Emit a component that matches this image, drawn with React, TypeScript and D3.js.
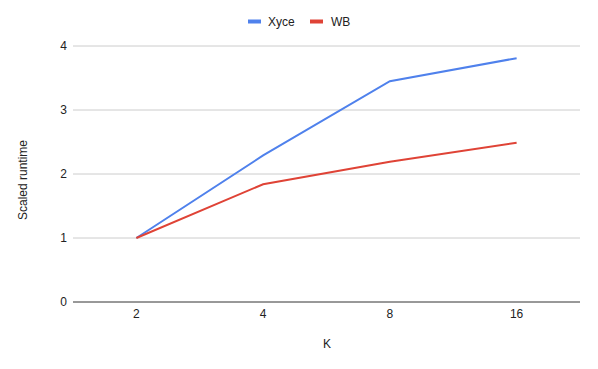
import React from 'react';
import * as d3 from 'd3';

const categories = ['2', '4', '8', '16'];
const xyce = [1, 2.29, 3.45, 3.81];
const wb = [1, 1.84, 2.19, 2.49];
const yTicks = [0, 1, 2, 3, 4];

const series = [
  { name: 'Xyce', values: xyce, color: '#4f81ec' },
  { name: 'WB', values: wb, color: '#df4336' },
];

const W = 598;
const H = 369;
const font = 'Liberation Sans, Arial, sans-serif';

export default function App() {
  const x = d3.scaleBand().domain(categories).range([73, 580]);
  const y = d3.scaleLinear().domain([0, 4]).range([302, 46]);

  const line = d3
    .line<number>()
    .x((_, i) => x(categories[i])! + x.bandwidth() / 2)
    .y(d => y(d));

  return (
    <svg width={W} height={H} style={{ position: 'absolute', left: 0, top: 0 }} fontFamily={font}>
      <rect width={W} height={H} fill="#fff" />
      {yTicks.map(t => (
        <g key={t}>
          <line x1={73} x2={580} y1={y(t)} y2={y(t)} stroke={t === 0 ? '#333' : '#ccc'} strokeWidth={1} />
          <text x={67} y={y(t)} dy="0.35em" textAnchor="end" fontSize={12} fill="#222">{t}</text>
        </g>
      ))}
      {categories.map(c => (
        <text key={c} x={x(c)! + x.bandwidth() / 2} y={318} textAnchor="middle" fontSize={12} fill="#222">{c}</text>
      ))}
      {series.map(s => (
        <path key={s.name} d={line(s.values)!} fill="none" stroke={s.color} strokeWidth={2} />
      ))}
      <text x={327} y={348} textAnchor="middle" fontSize={12} fill="#222">K</text>
      <text transform="translate(27,180) rotate(-90)" textAnchor="middle" fontSize={12} fill="#222">Scaled runtime</text>
      <g>
        <line x1={248} x2={261} y1={21.5} y2={21.5} stroke={series[0].color} strokeWidth={4} />
        <text x={268} y={26} fontSize={12} fill="#222">Xyce</text>
        <line x1={310} x2={323} y1={21.5} y2={21.5} stroke={series[1].color} strokeWidth={4} />
        <text x={331} y={26} fontSize={12} fill="#222">WB</text>
      </g>
    </svg>
  );
}
